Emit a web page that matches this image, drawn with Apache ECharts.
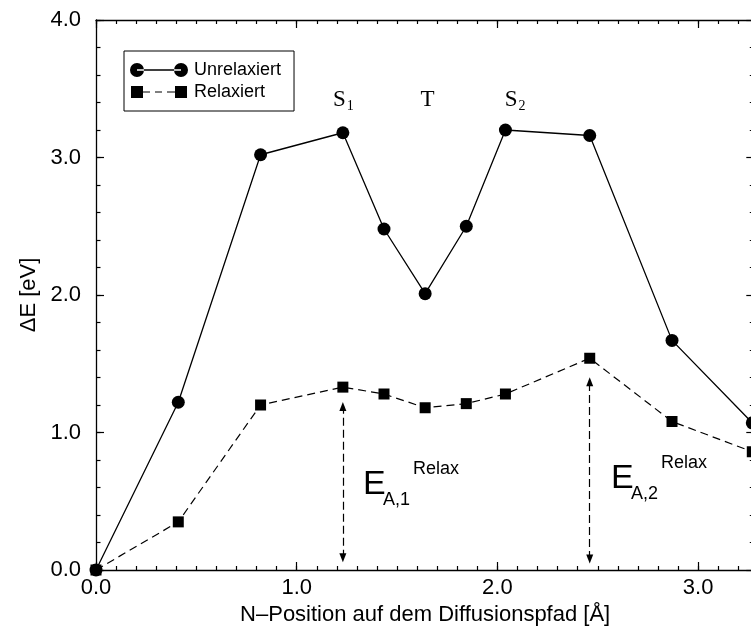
<!DOCTYPE html>
<html>
<head>
<meta charset="utf-8">
<script src="https://cdn.jsdelivr.net/npm/echarts@6/dist/echarts.min.js"></script>
<style>
  html, body { margin: 0; padding: 0; background: #fff; }
  #chart { width: 751px; height: 637px; }
</style>
</head>
<body>
<div id="chart"></div>
<script>
// Positions of the N atom along the diffusion path [Å]
const positions = [0, 0.41, 0.82, 1.23, 1.435, 1.64, 1.845, 2.04, 2.46, 2.87, 3.27];
// Energy barrier without relaxation [eV]
const unrelaxed = [0, 1.22, 3.02, 3.18, 2.48, 2.01, 2.50, 3.20, 3.16, 1.67, 1.07];
// Energy barrier with relaxation [eV]
const relaxed = [0, 0.35, 1.20, 1.33, 1.28, 1.18, 1.21, 1.28, 1.54, 1.08, 0.86];

// Tick labels
const xTickLabels = ['0.0', '1.0', '2.0', '3.0'];
const yTickLabels = ['0.0', '1.0', '2.0', '3.0', '4.0'];

// Activation-energy arrows: x position, lower tip, upper tip
const arrowX = [1.23, 2.46];
const arrowLow = [0.09, 0.08];
const arrowHigh = [1.19, 1.37];

// Site labels above the barrier (S1, T, S2)
const siteNames = ['S', 'T', 'S'];
const siteSubs = ['1', '', '2'];
const siteX = [1.23, 1.652, 2.085];
const siteY = 3.42;

// Activation energy labels
const eaSubs = ['A,1', 'A,2'];
const eaX = [1.33, 2.566];
const eaY = [0.618, 0.665];

const SANS = '"Liberation Sans", Arial, Helvetica, sans-serif';
const SERIF = '"Liberation Serif", "Times New Roman", serif';

function tickFormatter(labels) {
  return function (v) {
    const i = Math.round(v);
    return Math.abs(v - i) < 1e-6 && labels[i] != null ? labels[i] : '';
  };
}

const chart = echarts.init(document.getElementById('chart'), null, { renderer: 'canvas' });

const xMax = 3.28;
const black = '#000';

function xAxisDef(position, interval, tickLen, withLine, withLabel) {
  return {
    type: 'value', min: 0, max: xMax, interval: interval, position: position,
    axisLine: { show: withLine, onZero: false, lineStyle: { color: black, width: 1.3 } },
    axisTick: { show: true, inside: true, length: tickLen, lineStyle: { color: black, width: 1.2 } },
    axisLabel: withLabel
      ? { show: true, formatter: tickFormatter(xTickLabels), fontSize: 22, color: black, fontFamily: SANS, margin: 7 }
      : { show: false },
    splitLine: { show: false }
  };
}
function yAxisDef(position, interval, tickLen, withLine, withLabel) {
  return {
    type: 'value', min: 0, max: 4, interval: interval, position: position,
    axisLine: { show: withLine, onZero: false, lineStyle: { color: black, width: 1.3 } },
    axisTick: { show: true, inside: true, length: tickLen, lineStyle: { color: black, width: 1.2 } },
    axisLabel: withLabel
      ? { show: true, formatter: tickFormatter(yTickLabels), fontSize: 22, color: black, fontFamily: SANS, margin: 15 }
      : { show: false },
    splitLine: { show: false }
  };
}

const xMain = xAxisDef('bottom', 1, 8, true, true);
xMain.name = 'N\u2013Position auf dem Diffusionspfad [\u00c5]';
xMain.nameLocation = 'middle';
xMain.nameGap = 33;
xMain.nameTextStyle = { fontSize: 22, color: black, fontFamily: SANS };

const yMain = yAxisDef('left', 1, 8, true, true);
yMain.name = '\u0394E [eV]';
yMain.nameLocation = 'middle';
yMain.nameGap = 46;
yMain.nameTextStyle = { fontSize: 22, color: black, fontFamily: SANS };

// Legend icons: marker - line - marker
const iconUnrelaxed = 'path://M0,7 A7,7 0 1,0 14,7 A7,7 0 1,0 0,7 Z M44,7 A7,7 0 1,0 58,7 A7,7 0 1,0 44,7 Z M7,6.35 L51,6.35 L51,7.65 L7,7.65 Z';
const iconRelaxed = 'path://M1,1 L13,1 L13,13 L1,13 Z M45,1 L57,1 L57,13 L45,13 Z M13,6.4 L20,6.4 L20,7.6 L13,7.6 Z M25,6.4 L32,6.4 L32,7.6 L25,7.6 Z M37,6.4 L45,6.4 L45,7.6 L37,7.6 Z M0,0 L0.01,0 L0.01,14 L0,14 Z M57.99,0 L58,0 L58,14 L57.99,14 Z';

const option = {
  animation: false,
  backgroundColor: '#fff',
  grid: {
    left: 96, top: 20, width: xMax * 200.7, height: 550,
    containLabel: false, outerBoundsMode: 'none'
  },
  legend: {
    left: 124, top: 51, orient: 'vertical',
    itemWidth: 58, itemHeight: 14, itemGap: 4,
    padding: [10, 13, 10, 6],
    borderColor: black, borderWidth: 1,
    selectedMode: false,
    itemStyle: { borderWidth: 0 },
    textStyle: { fontSize: 18, color: black, fontFamily: SANS, padding: [0, 0, 0, 1] },
    data: [
      { name: 'Unrelaxiert', icon: iconUnrelaxed },
      { name: 'Relaxiert', icon: iconRelaxed }
    ]
  },
  xAxis: [
    xMain,
    xAxisDef('bottom', 0.1, 4, false, false),
    xAxisDef('top', 1, 8, true, false),
    xAxisDef('top', 0.1, 4, false, false)
  ],
  yAxis: [
    yMain,
    yAxisDef('left', 0.2, 4.5, false, false),
    yAxisDef('right', 1, 8, true, false),
    yAxisDef('right', 0.2, 4.5, false, false)
  ],
  series: [
    {
      name: 'Relaxiert', type: 'line', xAxisIndex: 0, yAxisIndex: 0,
      data: positions.map((x, i) => [x, relaxed[i]]),
      symbol: 'rect', symbolSize: 11,
      lineStyle: { color: black, width: 1.2, type: [8, 5] },
      itemStyle: { color: black },
      z: 2,
      markLine: {
        silent: true,
        symbol: ['triangle', 'triangle'],
        symbolSize: [7, 9],
        label: { show: false },
        lineStyle: { color: black, width: 1.2, type: [8, 4] },
        emphasis: { disabled: true },
        data: arrowX.map((x, i) => [{ coord: [x, arrowLow[i]] }, { coord: [x, arrowHigh[i]] }])
      }
    },
    {
      name: 'Unrelaxiert', type: 'line', xAxisIndex: 0, yAxisIndex: 0,
      data: positions.map((x, i) => [x, unrelaxed[i]]),
      symbol: 'circle', symbolSize: 13,
      lineStyle: { color: black, width: 1.3 },
      itemStyle: { color: black },
      z: 3
    }
  ]
};

chart.setOption(option);

// Text annotations placed from data coordinates
const toPx = (x, y) => chart.convertToPixel({ xAxisIndex: 0, yAxisIndex: 0 }, [x, y]);
const graphics = [];

siteNames.forEach((name, i) => {
  const p = toPx(siteX[i], siteY);
  const hasSub = siteSubs[i] !== '';
  graphics.push({
    type: 'text', silent: true,
    style: {
      text: name, x: hasSub ? p[0] + 3 : p[0], y: p[1],
      align: hasSub ? 'right' : 'center', verticalAlign: 'middle',
      font: '23px ' + SERIF, fill: black
    }
  });
  if (hasSub) {
    graphics.push({
      type: 'text', silent: true,
      style: {
        text: siteSubs[i], x: p[0] + 4, y: p[1] + 7,
        align: 'left', verticalAlign: 'middle',
        font: '14px ' + SERIF, fill: black
      }
    });
  }
});

eaSubs.forEach((sub, i) => {
  const p = toPx(eaX[i], eaY[i]);
  graphics.push({
    type: 'text', silent: true,
    style: { text: 'E', x: p[0], y: p[1], align: 'left', verticalAlign: 'middle', font: '34px ' + SANS, fill: black }
  });
  graphics.push({
    type: 'text', silent: true,
    style: { text: sub, x: p[0] + 20, y: p[1] + 15, align: 'left', verticalAlign: 'middle', font: '18px ' + SANS, fill: black }
  });
  graphics.push({
    type: 'text', silent: true,
    style: { text: 'Relax', x: p[0] + 50, y: p[1] - 16, align: 'left', verticalAlign: 'middle', font: '18px ' + SANS, fill: black }
  });
});

chart.setOption({ graphic: graphics });
</script>
</body>
</html>
